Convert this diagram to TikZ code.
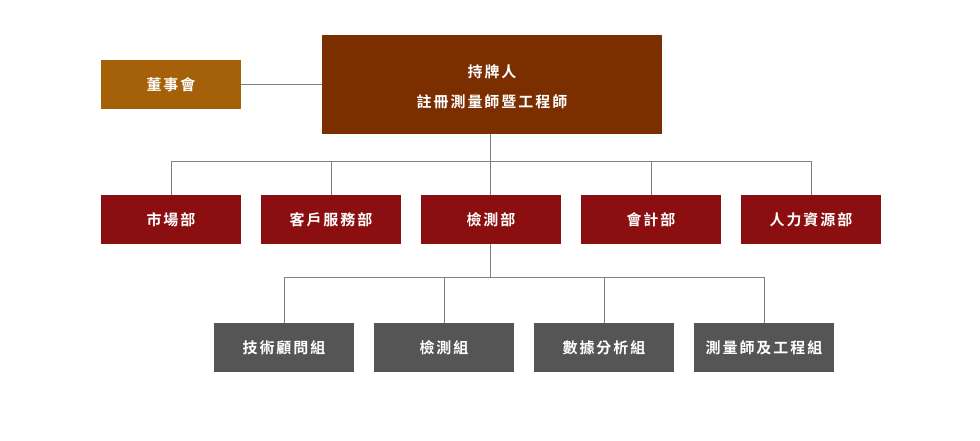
\documentclass[tikz,border=0pt]{standalone}
\usepackage{fontspec}
\setmainfont{Noto Sans CJK TC}[BoldFont={* Bold},LetterSpace=12]
\newfontfamily\cjkb{Noto Sans CJK TC Bold}[LetterSpace=13]
\definecolor{topbrown}{HTML}{7B2E00}
\definecolor{gold}{HTML}{A5610A}
\definecolor{dept}{HTML}{8B0E10}
\definecolor{grp}{HTML}{555555}
\definecolor{lin}{HTML}{808080}
\begin{document}
\begin{tikzpicture}[x=1pt,y=-1pt,
  box/.style={minimum width=140pt,minimum height=49pt,inner sep=0pt,text=white,font=\cjkb\fontsize{15}{30}\selectfont,align=center},
  topbox/.style={box,fill=topbrown,minimum width=340pt,minimum height=99pt},
  boardbox/.style={box,fill=gold},
  deptbox/.style={box,fill=dept},
  grpbox/.style={box,fill=grp},
  conn/.style={draw=lin,line width=1pt}]
\path[use as bounding box] (0,0) rectangle (980,440);
\node[topbox] (top) at (492,84.5) {};
\node[box] (toptext) at (492,87) {持牌人\\註冊測量師暨工程師};
\node[boardbox] (board) at (171,84.5) {董事會};
\node[deptbox] (d1) at (171,219.5) {市場部};
\node[deptbox] (d2) at (331,219.5) {客戶服務部};
\node[deptbox] (d3) at (491,219.5) {檢測部};
\node[deptbox] (d4) at (651,219.5) {會計部};
\node[deptbox] (d5) at (811,219.5) {人力資源部};
\node[grpbox] (g1) at (284,347.5) {技術顧問組};
\node[grpbox] (g2) at (444,347.5) {檢測組};
\node[grpbox] (g3) at (604,347.5) {數據分析組};
\node[grpbox] (g4) at (764,347.5) {測量師及工程組};
\coordinate (j1) at (490,161);
\coordinate (j2) at (490,277);
\draw[conn] (board.east) -- (top.west);
\draw[conn] (top.south -| j1) -- (j1);
\draw[conn] (j1 -| d1) -- (j1 -| d5);
\foreach \d in {d1,d2,d4,d5} \draw[conn] (j1 -| \d) -- (\d.north);
\draw[conn] (j1) -- (j1 |- d3.north);
\draw[conn] (d3.south -| j2) -- (j2);
\draw[conn] (j2 -| g1) -- (j2 -| g4);
\foreach \g in {g1,g2,g3,g4} \draw[conn] (j2 -| \g) -- (\g.north);
\end{tikzpicture}
\end{document}
